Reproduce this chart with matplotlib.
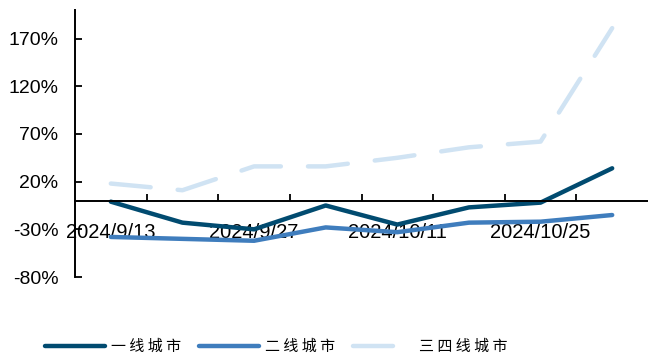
import matplotlib
matplotlib.use("Agg")
import matplotlib.pyplot as plt
from matplotlib.ticker import FixedLocator, FuncFormatter

dates = ["2024/9/13", "2024/9/20", "2024/9/27", "2024/10/4",
         "2024/10/11", "2024/10/18", "2024/10/25", "2024/11/1"]
tier1 = [-1, -23, -30, -5, -25, -7, -2, 34]
tier2 = [-38, -40, -42, -28, -33, -23, -22, -15]
tier34 = [18, 11, 36, 36, 45, 56, 62, 181]
series_names = ["一线城市", "二线城市", "三四线城市"]
yticks = [-80, -30, 20, 70, 120, 170]

c1, c2, c3 = "#014b70", "#3f7dbd", "#d0e3f3"

fig = plt.figure(figsize=(6.48, 3.54), dpi=100)
ax = fig.add_axes([75/648, 1-277/354, 1-75/648, (277-10)/354])

x = list(range(len(dates)))
spaced = [" ".join(n) for n in series_names]
ax.plot(x, tier1, color=c1, lw=3.2, solid_capstyle="round", label=spaced[0])
ax.plot(x, tier2, color=c2, lw=3.2, solid_capstyle="round", label=spaced[1])
ax.plot(x, tier34, color=c3, lw=3.2, dashes=(9, 6.1), dash_capstyle="round",
        label=spaced[2])

ax.set_xlim(-0.5, len(dates) - 0.5)
ax.set_ylim(-80, 200)

for s in ["top", "right"]:
    ax.spines[s].set_visible(False)
ax.spines["bottom"].set_position(("data", 0))
ax.spines["left"].set_linewidth(1.4)
ax.spines["bottom"].set_linewidth(1.4)

ax.yaxis.set_major_locator(FixedLocator(yticks))
ax.yaxis.set_major_formatter(FuncFormatter(lambda v, p: f"{v:.0f}%"))
ax.tick_params(axis="y", direction="in", length=5, width=1.3, pad=12,
               labelsize=14)
for t in ax.get_yticklabels():
    t.set_fontfamily("Liberation Sans")

ax.set_xticks(x[::2])
ax.set_xticklabels(dates[::2], fontfamily="Liberation Sans", fontsize=14.5)
ax.tick_params(axis="x", which="major", length=0, pad=16)
ax.set_xticks([i + 0.5 for i in x[:-1]], minor=True)
ax.tick_params(axis="x", which="minor", direction="in", length=5, width=1.3)

leg = fig.legend(loc="center", bbox_to_anchor=(276/648, 1-347/354), ncol=3,
                 frameon=False, handlelength=4.0, columnspacing=1.2,
                 handletextpad=0.4,
                 prop={"family": ["Noto Sans CJK SC", "DejaVu Sans"], "size": 10.8})

fig.savefig("out.png", dpi=100)
